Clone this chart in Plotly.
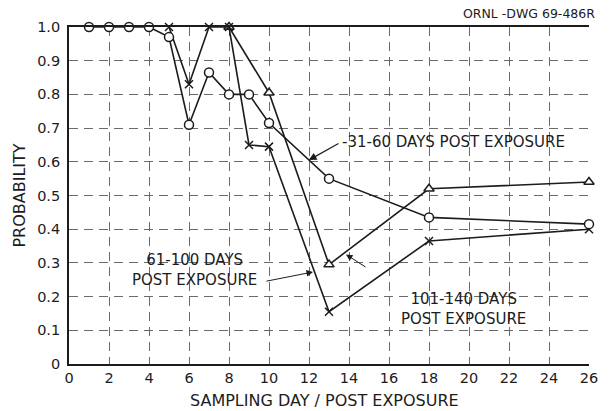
import plotly.graph_objects as go

# ---- data ----
days_31_60 = [1, 2, 3, 4, 5, 6, 7, 8, 9, 10, 13, 18, 26]
prob_31_60 = [1.0, 1.0, 1.0, 1.0, 0.97, 0.71, 0.865, 0.80, 0.80, 0.715, 0.55, 0.435, 0.415]

days_61_100 = [5, 6, 7, 8, 9, 10, 13, 18, 26]
prob_61_100 = [1.0, 0.83, 1.0, 1.0, 0.65, 0.645, 0.155, 0.365, 0.40]

days_101_140 = [8, 10, 13, 18, 26]
prob_101_140 = [1.0, 0.805, 0.295, 0.52, 0.54]

x_ticks = list(range(0, 27, 2))
y_ticks = [0, 0.1, 0.2, 0.3, 0.4, 0.5, 0.6, 0.7, 0.8, 0.9, 1.0]
y_tick_labels = ["0", "0.1", "0.2", "0.3", "0.4", "0.5", "0.6", "0.7", "0.8", "0.9", "1.0"]

INK = "#1c1c1c"
FONT = "DejaVu Sans"

fig = go.Figure()

fig.add_trace(go.Scatter(
    x=days_101_140, y=prob_101_140, mode="lines+markers", name="101-140 days",
    line=dict(color=INK, width=1.6),
    marker=dict(symbol="triangle-up", size=9, color="white", line=dict(color=INK, width=1.5)),
    cliponaxis=False))

fig.add_trace(go.Scatter(
    x=days_61_100, y=prob_61_100, mode="lines+markers", name="61-100 days",
    line=dict(color=INK, width=1.6),
    marker=dict(symbol="x-thin", size=8, color=INK, line=dict(color=INK, width=1.5)),
    cliponaxis=False))

fig.add_trace(go.Scatter(
    x=days_31_60, y=prob_31_60, mode="lines+markers", name="31-60 days",
    line=dict(color=INK, width=1.6),
    marker=dict(symbol="circle", size=9, color="white", line=dict(color=INK, width=1.5)),
    cliponaxis=False))

tf = dict(family=FONT, size=15, color=INK)

annotations = [
    dict(text="ORNL -DWG 69-486R", xref="paper", yref="paper", x=1.015, y=1.0, yshift=14,
         xanchor="right", yanchor="middle", showarrow=False,
         font=dict(family=FONT, size=12.5, color=INK)),
    dict(text="-31-60 DAYS POST EXPOSURE", xref="x", yref="y", x=13.55, y=0.659,
         xanchor="left", yanchor="middle", showarrow=False, font=tf),
    dict(text="", xref="x", yref="y", axref="x", ayref="y", x=11.99, y=0.605,
         ax=13.55, ay=0.657, showarrow=True, arrowhead=2, arrowsize=1.3,
         arrowwidth=1.2, arrowcolor=INK),
    dict(text="61-100 DAYS<br>POST EXPOSURE", xref="x", yref="y", x=6.29, y=0.279,
         xanchor="center", yanchor="middle", showarrow=False, font=tf),
    dict(text="", xref="x", yref="y", axref="x", ayref="y", x=12.2, y=0.273,
         ax=9.8, ay=0.245, showarrow=True, arrowhead=2, arrowsize=1.3,
         arrowwidth=1.0, arrowcolor=INK),
    dict(text="101-140 DAYS<br>POST EXPOSURE", xref="x", yref="y", x=19.7, y=0.163,
         xanchor="center", yanchor="middle", showarrow=False, font=tf),
    dict(text="", xref="x", yref="y", axref="x", ayref="y", x=13.85, y=0.325,
         ax=14.9, ay=0.285, showarrow=True, arrowhead=2, arrowsize=1.3,
         arrowwidth=1.0, arrowcolor=INK),
    dict(text="SAMPLING DAY / POST EXPOSURE", xref="x", yref="paper", x=12.78, y=-0.107,
         xanchor="center", yanchor="middle", showarrow=False,
         font=dict(family=FONT, size=16, color=INK)),
    dict(text="PROBABILITY", xref="paper", yref="y", x=-0.096, y=0.50, textangle=-90,
         xanchor="center", yanchor="middle", showarrow=False,
         font=dict(family=FONT, size=16, color=INK)),
]

fig.update_layout(
    width=609, height=411,
    margin=dict(l=69, r=11, t=27, b=47),
    paper_bgcolor="white", plot_bgcolor="white",
    showlegend=False,
    annotations=annotations,
    font=dict(family=FONT, color=INK),
)

grid = dict(showgrid=True, gridcolor="#6a6a6a", gridwidth=1, griddash="9px,6px", zeroline=False)

fig.update_xaxes(range=[0, 26], tickvals=x_ticks, ticktext=[str(v) for v in x_ticks],
                 showline=True, linecolor=INK, linewidth=1.8, mirror=True, ticks="",
                 tickfont=dict(family=FONT, size=14.5, color=INK), **grid)
fig.update_yaxes(range=[0, 1.0], tickvals=y_ticks, ticktext=y_tick_labels,
                 showline=True, linecolor=INK, linewidth=1.8, mirror=False, ticks="",
                 ticklabelstandoff=4,
                 tickfont=dict(family=FONT, size=14.5, color=INK), **grid)

fig.write_html("out.html", config={"displayModeBar": False},
               post_script="document.body.style.margin='0';document.body.style.overflow='hidden';")
